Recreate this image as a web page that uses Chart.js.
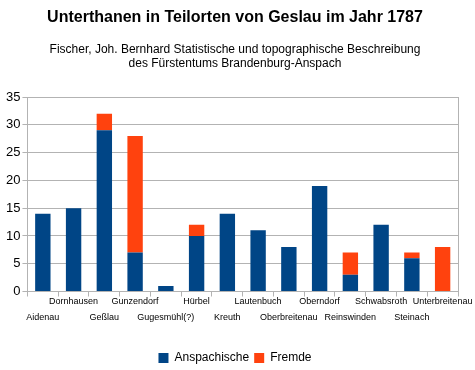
<!DOCTYPE html>
<html lang="de">
<head>
    <meta charset="UTF-8">
    <title>Unterthanen in Teilorten von Geslau</title>
    <script src="https://cdn.jsdelivr.net/npm/chart.js"></script>
    <style>
        body { margin: 0; background: #fff; }
        #wrap { width: 475px; height: 370px; }
    </style>
</head>
<body>
    <div id="wrap"><canvas id="chart"></canvas></div>

    <script>
        const orte = ['Aidenau', 'Dornhausen', 'Geßlau', 'Gunzendorf', 'Gugesmühl(?)', 'Hürbel', 'Kreuth',
            'Lautenbuch', 'Oberbreitenau', 'Oberndorf', 'Reinswinden', 'Schwabsroth', 'Steinach', 'Unterbreitenau'];
        const anspachische = [14, 15, 29, 7, 1, 10, 14, 11, 8, 19, 3, 12, 6, 0];
        const fremde = [0, 0, 3, 21, 0, 2, 0, 0, 0, 0, 4, 0, 1, 8];
        const yTicks = [0, 5, 10, 15, 20, 25, 30, 35];

        const font = 'Liberation Sans, Arial, sans-serif';
        Chart.defaults.font.family = font;
        Chart.defaults.color = '#000';

        const ctx = document.getElementById('chart').getContext('2d');
        new Chart(ctx, {
            type: 'bar',
            data: {
                labels: orte,
                datasets: [
                    { label: 'Anspachische', data: anspachische, backgroundColor: '#004586' },
                    { label: 'Fremde', data: fremde, backgroundColor: '#ff420e' },
                ],
            },
            options: {
                responsive: true,
                maintainAspectRatio: false,
                animation: false,
                categoryPercentage: 1,
                barPercentage: 0.5,
                layout: { padding: { left: 4, right: 9, top: 8, bottom: -4 } },
                plugins: {
                    title: {
                        display: true,
                        text: 'Unterthanen in Teilorten von Geslau im Jahr 1787',
                        font: { size: 16, weight: 'bold' },
                        padding: { top: 0, bottom: 15 },
                    },
                    subtitle: {
                        display: true,
                        text: ['Fischer, Joh. Bernhard Statistische und topographische Beschreibung',
                            'des Fürstentums Brandenburg-Anspach'],
                        font: { size: 12 },
                        padding: { bottom: 26 },
                    },
                    legend: {
                        position: 'bottom',
                        labels: { boxWidth: 10, boxHeight: 10, font: { size: 12 }, padding: 5 },
                    },
                    tooltip: { enabled: false },
                },
                scales: {
                    x: {
                        stacked: true,
                        offset: true,
                        grid: { offset: true, drawOnChartArea: false, color: '#b3b3b3', tickLength: 5 },
                        border: { color: '#b3b3b3' },
                        afterFit: axis => { axis.height += 25; },
                        ticks: {
                            autoSkip: false,
                            maxRotation: 0,
                            padding: -3,
                            font: { size: 9, lineHeight: 1.75 },
                            callback: (v, i) => i % 2 === 1 ? [orte[i], ''] : ['', orte[i]],
                        },
                    },
                    y: {
                        stacked: true,
                        min: 0,
                        max: 35,
                        afterBuildTicks: axis => { axis.ticks = yTicks.map(v => ({ value: v })); },
                        grid: { color: '#b3b3b3', tickLength: 5 },
                        border: { color: '#b3b3b3' },
                        ticks: { font: { size: 13 }, padding: 2 },
                    },
                    y2: {
                        position: 'right',
                        min: 0,
                        max: 35,
                        grid: { display: false },
                        ticks: { display: false },
                        border: { color: '#b3b3b3' },
                    },
                },
            },
        });
    </script>
</body>
</html>
